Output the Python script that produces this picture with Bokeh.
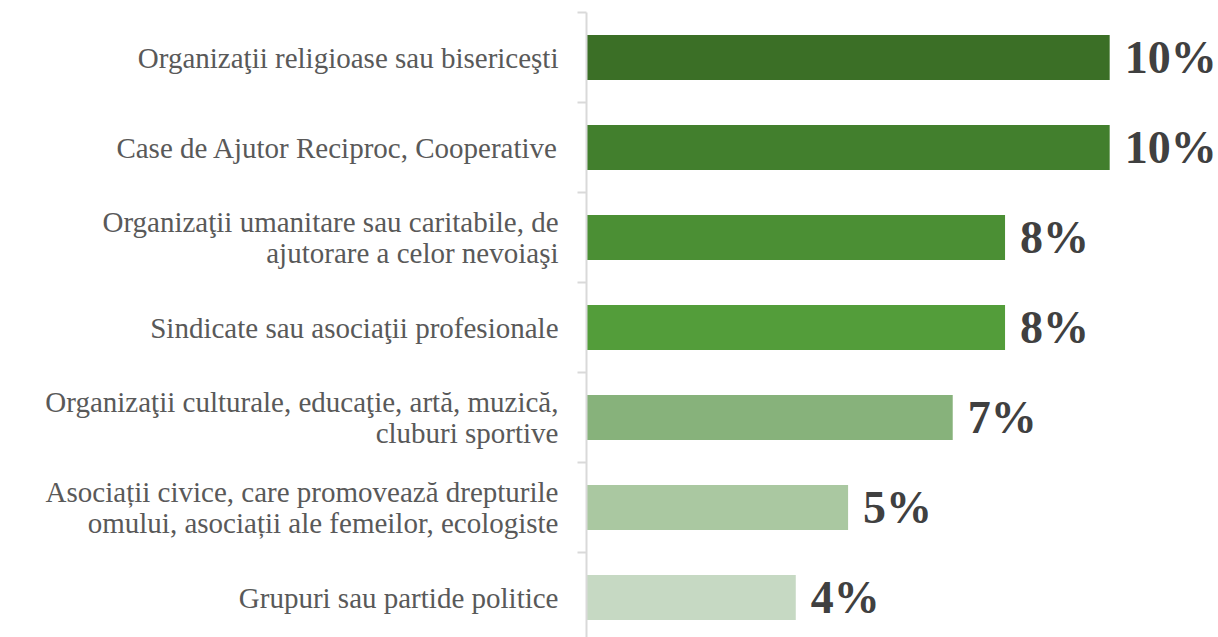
from bokeh.plotting import figure
from bokeh.models import Range1d, FixedTicker, ColumnDataSource
from bokeh.core.properties import value
from bokeh.embed import file_html
from bokeh.resources import INLINE

categories = [
    "Organizaţii religioase sau bisericeşti",
    "Case de Ajutor Reciproc, Cooperative",
    "Organizaţii umanitare sau caritabile, de\najutorare a celor nevoiaşi",
    "Sindicate sau asociaţii profesionale",
    "Organizaţii culturale, educaţie, artă, muzică,\ncluburi sportive",
    "Asociații civice, care promovează drepturile\nomului, asociații ale femeilor, ecologiste",
    "Grupuri sau partide politice",
]
values = [10, 10, 8, 8, 7, 5, 4]
labels = ["10%", "10%", "8%", "8%", "7%", "5%", "4%"]
colors = ["#3b6f26", "#427f2d", "#4b8f34", "#539d3a", "#87b27b", "#aac8a1", "#c6d9c3"]

n = len(categories)
ypos = [n - 1 - i for i in range(n)]

src = ColumnDataSource(dict(y=ypos, v=values, lab=labels, c=colors))

p = figure(width=1218, height=637, output_backend="svg", toolbar_location=None,
           x_axis_location=None, x_range=Range1d(0, 12.08),
           y_range=Range1d(-0.444, n - 0.5))
p.min_border_left = 586
p.min_border_top = 12
p.min_border_bottom = 0
p.min_border_right = 0
p.outline_line_color = None
p.xgrid.visible = False
p.ygrid.visible = False
p.background_fill_color = "white"
p.border_fill_color = "white"

p.hbar(y="y", right="v", left=0, height=0.5, color="c", line_color=None, source=src)
p.text(x="v", y="y", text="lab", x_offset=15, text_baseline="middle", text_align="left",
       text_font=value("Liberation Serif"), text_font_style="bold", text_font_size="46px",
       text_color="#404040", source=src)

ax = p.yaxis[0]
ax.ticker = FixedTicker(ticks=ypos, minor_ticks=[k - 0.5 for k in range(n + 1)])
ax.major_label_overrides = {y: c for y, c in zip(ypos, categories)}
ax.major_tick_line_color = None
ax.major_tick_out = 0
ax.major_tick_in = 0
ax.minor_tick_line_color = "#d9d9d9"
ax.minor_tick_line_width = 2
ax.minor_tick_out = 9
ax.minor_tick_in = 0
ax.axis_line_color = "#d9d9d9"
ax.axis_line_width = 2
ax.major_label_standoff = 19
ax.major_label_text_font = "Liberation Serif"
ax.major_label_text_font_size = "29px"
ax.major_label_text_color = "#595959"
ax.major_label_text_line_height = 0.95

open("out.html", "w").write(file_html(p, INLINE))
